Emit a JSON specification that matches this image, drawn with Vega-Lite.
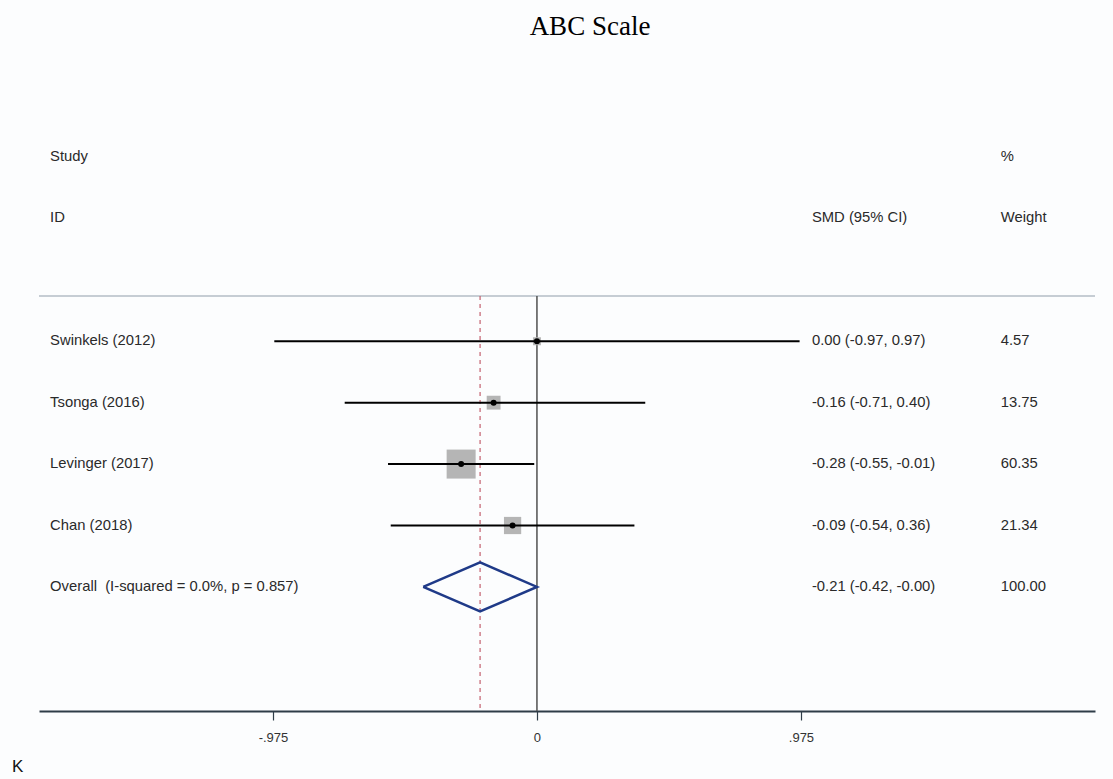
{
  "$schema": "https://vega.github.io/schema/vega-lite/v6.json",
  "width": 1056,
  "height": 655,
  "autosize": {"type": "none"},
  "padding": {"left": 39, "right": 18, "top": 56, "bottom": 68},
  "background": "#fcfdfe",
  "title": {"text": "ABC Scale", "font": "Liberation Serif", "fontSize": 27, "fontWeight": "normal", "color": "#000000", "anchor": "middle", "offset": 15, "dx": 23},
  "config": {"view": {"stroke": null}},
  "datasets": {
    "studies": [
      {"study": "Swinkels (2012)", "smd": 0.00, "lo": -0.97, "hi": 0.97, "weight": 4.57, "row": 3},
      {"study": "Tsonga (2016)", "smd": -0.16, "lo": -0.71, "hi": 0.40, "weight": 13.75, "row": 4},
      {"study": "Levinger (2017)", "smd": -0.28, "lo": -0.55, "hi": -0.01, "weight": 60.35, "row": 5},
      {"study": "Chan (2018)", "smd": -0.09, "lo": -0.54, "hi": 0.36, "weight": 21.34, "row": 6}
    ],
    "diamond": [
      {"x": -0.42, "y": 7, "o": 0},
      {"x": -0.21, "y": 6.6, "o": 1},
      {"x": 0.00, "y": 7, "o": 2},
      {"x": -0.21, "y": 7.4, "o": 3},
      {"x": -0.42, "y": 7, "o": 4}
    ],
    "table": [
      {"row": 0, "c1": "Study", "c2": "", "c3": "%"},
      {"row": 1, "c1": "ID", "c2": "SMD (95% CI)", "c3": "Weight"},
      {"row": 3, "c1": "Swinkels (2012)", "c2": "0.00 (-0.97, 0.97)", "c3": "4.57"},
      {"row": 4, "c1": "Tsonga (2016)", "c2": "-0.16 (-0.71, 0.40)", "c3": "13.75"},
      {"row": 5, "c1": "Levinger (2017)", "c2": "-0.28 (-0.55, -0.01)", "c3": "60.35"},
      {"row": 6, "c1": "Chan (2018)", "c2": "-0.09 (-0.54, 0.36)", "c3": "21.34"},
      {"row": 7, "c1": "Overall\u00a0 (I-squared = 0.0%, p = 0.857)", "c2": "-0.21 (-0.42, -0.00)", "c3": "100.00"}
    ]
  },
  "layer": [
    {
      "data": {"values": [{}]},
      "mark": {"type": "rule", "color": "#b4bcc6", "strokeWidth": 1.5},
      "encoding": {
        "y": {"datum": 2.263, "type": "quantitative", "scale": {"domain": [-1.644, 9.02], "reverse": true, "nice": false, "zero": false}, "axis": null}
      }
    },
    {
      "data": {"values": [{}]},
      "mark": {"type": "rule", "color": "#505050", "strokeWidth": 1.5},
      "encoding": {
        "x": {"datum": 0, "type": "quantitative", "scale": {"domain": [-1.839, 2.061], "nice": false, "zero": false},
          "axis": {"values": [-0.975, 0, 0.975], "labelExpr": "datum.value == 0 ? '0' : (datum.value < 0 ? '-.975' : '.975')", "title": null, "grid": false, "domainColor": "#2f3d48", "domainWidth": 2, "tickColor": "#2f3d48", "tickWidth": 1.2, "tickSize": 9, "labelFont": "Liberation Sans", "labelFontSize": 13, "labelColor": "#333333", "labelPadding": 11}},
        "y": {"datum": 2.263, "type": "quantitative"},
        "y2": {"datum": 9.02}
      }
    },
    {
      "data": {"values": [{}]},
      "mark": {"type": "rule", "color": "#c4606e", "strokeWidth": 1.2, "strokeDash": [4, 4]},
      "encoding": {
        "x": {"datum": -0.21, "type": "quantitative"},
        "y": {"datum": 2.263, "type": "quantitative"},
        "y2": {"datum": 9.02}
      }
    },
    {
      "data": {"name": "studies"},
      "mark": {"type": "point", "shape": "square", "filled": true, "color": "#b5b5b5", "opacity": 1},
      "encoding": {
        "x": {"field": "smd", "type": "quantitative"},
        "y": {"field": "row", "type": "quantitative"},
        "size": {"field": "weight", "type": "quantitative", "scale": {"domain": [0, 60.35], "range": [0, 841], "zero": true}, "legend": null}
      }
    },
    {
      "data": {"name": "studies"},
      "mark": {"type": "rule", "color": "#000000", "strokeWidth": 2},
      "encoding": {
        "x": {"field": "lo", "type": "quantitative"},
        "x2": {"field": "hi"},
        "y": {"field": "row", "type": "quantitative"}
      }
    },
    {
      "data": {"name": "studies"},
      "mark": {"type": "point", "shape": "circle", "filled": true, "color": "#000000", "size": 36, "opacity": 1},
      "encoding": {
        "x": {"field": "smd", "type": "quantitative"},
        "y": {"field": "row", "type": "quantitative"}
      }
    },
    {
      "data": {"name": "diamond"},
      "mark": {"type": "line", "color": "#1f3a88", "strokeWidth": 2.5, "strokeJoin": "miter"},
      "encoding": {
        "x": {"field": "x", "type": "quantitative"},
        "y": {"field": "y", "type": "quantitative"},
        "order": {"field": "o", "type": "quantitative"}
      }
    },
    {
      "data": {"name": "table"},
      "mark": {"type": "text", "align": "left", "baseline": "middle", "font": "Liberation Sans", "fontSize": 14.8, "color": "#2a2a2a"},
      "encoding": {
        "x": {"datum": -1.798, "type": "quantitative"},
        "y": {"field": "row", "type": "quantitative"},
        "text": {"field": "c1"}
      }
    },
    {
      "data": {"name": "table"},
      "mark": {"type": "text", "align": "left", "baseline": "middle", "font": "Liberation Sans", "fontSize": 14.8, "color": "#2a2a2a"},
      "encoding": {
        "x": {"datum": 1.0155, "type": "quantitative"},
        "y": {"field": "row", "type": "quantitative"},
        "text": {"field": "c2"}
      }
    },
    {
      "data": {"name": "table"},
      "mark": {"type": "text", "align": "left", "baseline": "middle", "font": "Liberation Sans", "fontSize": 14.8, "color": "#2a2a2a"},
      "encoding": {
        "x": {"datum": 1.713, "type": "quantitative"},
        "y": {"field": "row", "type": "quantitative"},
        "text": {"field": "c3"}
      }
    },
    {
      "data": {"values": [{"label": "K"}]},
      "mark": {"type": "text", "align": "left", "baseline": "middle", "font": "Liberation Sans", "fontSize": 17, "color": "#111111"},
      "encoding": {
        "x": {"datum": -1.939, "type": "quantitative"},
        "y": {"datum": 9.93, "type": "quantitative"},
        "text": {"field": "label"}
      }
    }
  ]
}
